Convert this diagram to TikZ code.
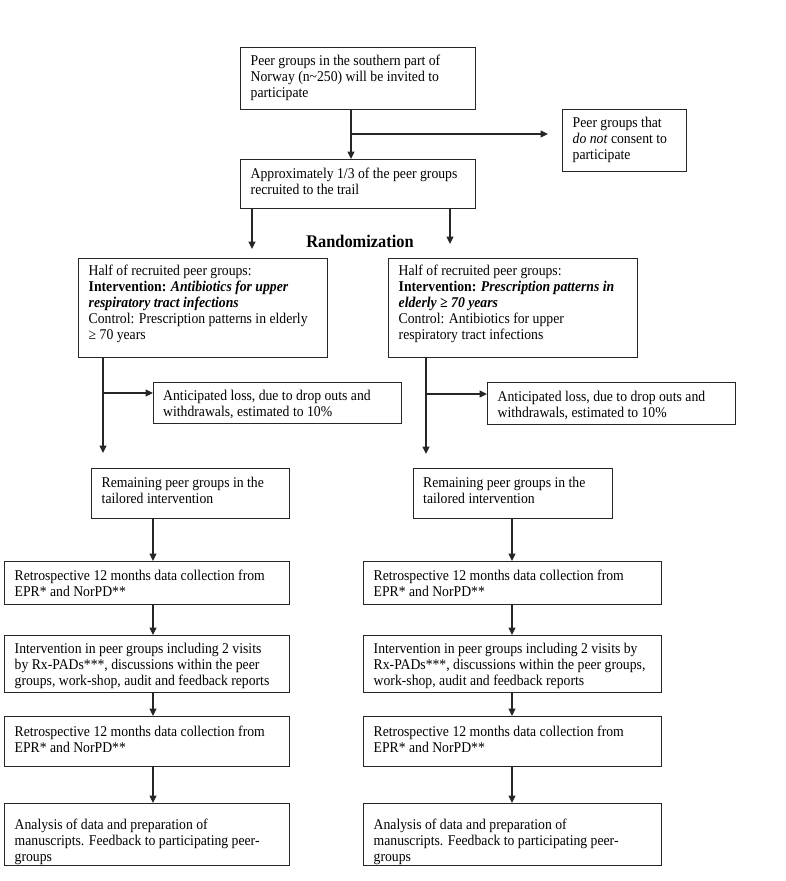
\documentclass[tikz,border=0pt]{standalone}
\usepackage{fontspec}
\setmainfont{Liberation Serif}[FakeStretch=0.92]
\usetikzlibrary{arrows.meta,calc}
\tikzset{
  box/.style={draw=black!85, line width=1.4pt, inner sep=0pt, anchor=north west},
  txt/.style={anchor=west, align=left, inner sep=0pt, font=\fontsize{14.9}{16}\selectfont},
  conn/.style={draw=black!85, line width=1.3pt},
  arr/.style={conn, -{Triangle[length=7.5pt,width=7pt]}},
}
\begin{document}
\begin{tikzpicture}[x=1pt,y={(0pt,-1pt)}]
\fill[white] (0,0) rectangle (785,881);
\useasboundingbox (0,0) rectangle (785,881);

% top
\node[box, minimum width=235pt, minimum height=62pt] (b1) at (240,47) {};
\node[txt] (b1t) at ([xshift=10.5pt,yshift=1pt]b1.west) {Peer groups in the southern part of\\Norway (n\textasciitilde250) will be invited to\\participate};

\node[box, minimum width=124pt, minimum height=62pt] (bno) at (562,109) {};
\node[txt] (bnot) at ([xshift=10.5pt,yshift=1pt]bno.west) {Peer groups that\\\textit{do not} consent to\\participate};

\node[box, minimum width=235pt, minimum height=49pt] (b2) at (240,159) {};
\node[txt] (b2t) at ([xshift=10.5pt,yshift=3pt]b2.west) {Approximately 1/3 of the peer groups\\recruited to the trail};

\coordinate (c1) at (351,134);
\draw[conn] (b1.south -| c1) -- (c1);
\draw[arr] (c1) -- (b2.north -| c1);
\draw[arr, shorten >=14pt] (c1) -- (c1 -| bno.west);

% randomization
\node[anchor=base, inner sep=0pt, font=\fontsize{17.8}{19}\selectfont\bfseries] (rand) at (360,247) {Randomization};
\coordinate (rl) at (252,249);
\coordinate (rr) at (450,244);
\draw[arr] (b2.south -| rl) -- (rl);
\draw[arr] (b2.south -| rr) -- (rr);

% arms
\node[box, minimum width=249pt, minimum height=99pt] (b3l) at (78,258) {};
\node[txt] (b3lt) at ([xshift=10.5pt,yshift=4pt]b3l.west) {Half of recruited peer groups:\\\textbf{Intervention:} \textbf{\textit{Antibiotics for upper}}\\\textbf{\textit{respiratory tract infections}}\\Control: Prescription patterns in elderly\\≥ 70 years};

\node[box, minimum width=249pt, minimum height=99pt] (b3r) at (388,258) {};
\node[txt] (b3rt) at ([xshift=10.5pt,yshift=4pt]b3r.west) {Half of recruited peer groups:\\\textbf{Intervention:} \textbf{\textit{Prescription patterns in}}\\\textbf{\textit{elderly ≥ 70 years}}\\Control: Antibiotics for upper\\respiratory tract infections};

\node[box, minimum width=248pt, minimum height=41pt] (al) at (153,382) {};
\node[txt] (alt) at ([xshift=10pt,yshift=-1.5pt]al.west) {Anticipated loss, due to drop outs and\\withdrawals, estimated to 10\%};

\node[box, minimum width=248pt, minimum height=42pt] (ar) at (487,382) {};
\node[txt] (art) at ([xshift=10.5pt,yshift=-1.5pt]ar.west) {Anticipated loss, due to drop outs and\\withdrawals, estimated to 10\%};

\coordinate (dl) at (103,453);
\coordinate (jl) at (103,393);
\draw[arr] (b3l.south -| dl) -- (dl);
\draw[arr] (jl) -- (jl -| al.west);

\coordinate (dr) at (426,454);
\coordinate (jr) at (426,394);
\draw[arr] (b3r.south -| dr) -- (dr);
\draw[arr] (jr) -- (jr -| ar.west);

% left column
\node[box, minimum width=198pt, minimum height=50pt] (reml) at (91,468) {};
\node[txt] (remlt) at ([xshift=10.5pt,yshift=3pt]reml.west) {Remaining peer groups in the\\tailored intervention};

\node[box, minimum width=285pt, minimum height=43pt] (r1l) at (4,561) {};
\node[txt] (r1lt) at ([xshift=10.5pt]r1l.west) {Retrospective 12 months data collection from\\EPR* and NorPD**};

\node[box, minimum width=285pt, minimum height=57pt] (inl) at (4,635) {};
\node[txt] (inlt) at ([xshift=10.5pt,yshift=-1.5pt]inl.west) {Intervention in peer groups including 2 visits\\by Rx-PADs***, discussions within the peer\\groups, work-shop, audit and feedback reports};

\node[box, minimum width=285pt, minimum height=50pt] (r2l) at (4,716) {};
\node[txt] (r2lt) at ([xshift=10.5pt,yshift=2pt]r2l.west) {Retrospective 12 months data collection from\\EPR* and NorPD**};

\node[box, minimum width=285pt, minimum height=62pt] (anl) at (4,803) {};
\node[txt] (anlt) at ([xshift=10.5pt,yshift=-7.5pt]anl.west) {Analysis of data and preparation of\\manuscripts. Feedback to participating peer-\\groups};

\coordinate (xl) at (153,0);
\draw[arr] (reml.south -| xl) -- (r1l.north -| xl);
\draw[arr] (r1l.south -| xl) -- (inl.north -| xl);
\draw[arr] (inl.south -| xl) -- (r2l.north -| xl);
\draw[arr] (r2l.south -| xl) -- (anl.north -| xl);

% right column
\node[box, minimum width=199pt, minimum height=50pt] (remr) at (413,468) {};
\node[txt] (remrt) at ([xshift=10pt,yshift=3pt]remr.west) {Remaining peer groups in the\\tailored intervention};

\node[box, minimum width=298pt, minimum height=43pt] (r1r) at (363,561) {};
\node[txt] (r1rt) at ([xshift=10.5pt]r1r.west) {Retrospective 12 months data collection from\\EPR* and NorPD**};

\node[box, minimum width=298pt, minimum height=57pt] (inr) at (363,635) {};
\node[txt] (inrt) at ([xshift=10.5pt,yshift=-1.5pt]inr.west) {Intervention in peer groups including 2 visits by\\Rx-PADs***, discussions within the peer groups,\\work-shop, audit and feedback reports};

\node[box, minimum width=298pt, minimum height=50pt] (r2r) at (363,716) {};
\node[txt] (r2rt) at ([xshift=10.5pt,yshift=2pt]r2r.west) {Retrospective 12 months data collection from\\EPR* and NorPD**};

\node[box, minimum width=298pt, minimum height=62pt] (anr) at (363,803) {};
\node[txt] (anrt) at ([xshift=10.5pt,yshift=-7.5pt]anr.west) {Analysis of data and preparation of\\manuscripts. Feedback to participating peer-\\groups};

\coordinate (xr) at (512,0);
\draw[arr] (remr.south -| xr) -- (r1r.north -| xr);
\draw[arr] (r1r.south -| xr) -- (inr.north -| xr);
\draw[arr] (inr.south -| xr) -- (r2r.north -| xr);
\draw[arr] (r2r.south -| xr) -- (anr.north -| xr);
\end{tikzpicture}
\end{document}
